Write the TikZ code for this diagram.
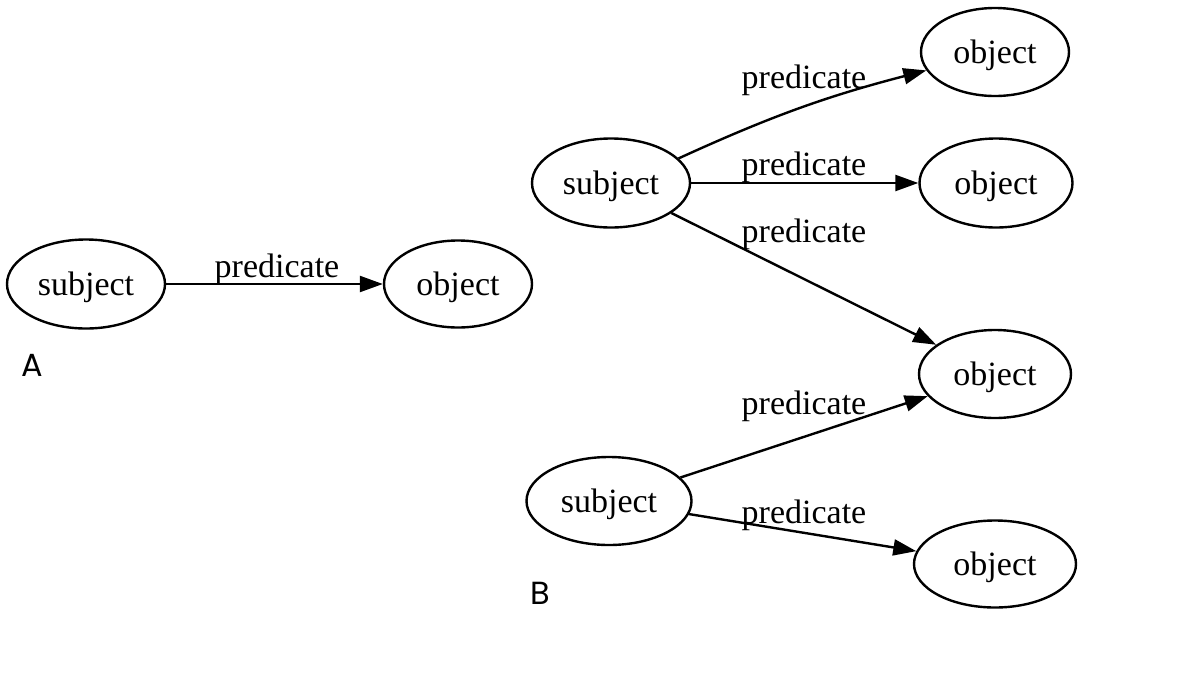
\documentclass[tikz,border=0pt]{standalone}
\usepackage{fontspec}
\setmainfont{Liberation Serif}
\newfontfamily\labfont{Poppins}
\usetikzlibrary{shapes.geometric,arrows.meta}
\begin{document}
\begin{tikzpicture}[x=1pt,y=-1pt,
  ell/.style={draw, line width=2.4pt, ellipse, inner sep=0pt, text height=27pt, text depth=4pt, font=\fontsize{34}{40}\selectfont},
  edge/.style={line width=2.4pt, -{Triangle[length=23pt,width=16pt]}},
  pred/.style={anchor=base, inner sep=0pt, font=\fontsize{34}{40}\selectfont},
  panel/.style={inner sep=0pt, font=\labfont\fontsize{32}{38}\selectfont}]
\useasboundingbox (0,0) rectangle (1200,675);
\fill[white] (0,0) rectangle (1200,675);
% Panel A
\node[ell, minimum width=158pt, minimum height=89pt] (sA) at (86,284) {subject};
\node[ell, minimum width=148pt, minimum height=87pt] (oA) at (458,284) {object};
\draw[edge] (sA) -- (oA);
\node[pred] (pA) at (277,277) {predicate};
\node[panel] (lA) at (32,365) {A};
% Panel B
\node[ell, minimum width=158pt, minimum height=89pt] (s1) at (611,183) {subject};
\node[ell, minimum width=148pt, minimum height=88pt] (o1) at (995,52) {object};
\node[ell, minimum width=153pt, minimum height=89pt] (o2) at (996,183) {object};
\node[ell, minimum width=152pt, minimum height=88pt] (o3) at (995,374) {object};
\node[ell, minimum width=165pt, minimum height=88pt] (s3) at (609,501) {subject};
\node[ell, minimum width=162pt, minimum height=87pt] (o5) at (995,564) {object};
\draw[edge] (s1.20) to[bend left=5] (o1.195);
\draw[edge] (s1) -- (o2);
\draw[edge] (s1) -- (o3);
\draw[edge] (s3) -- (o3);
\draw[edge] (s3) -- (o5);
\node[pred] (p1) at (804,88) {predicate};
\node[pred] (p2) at (804,175) {predicate};
\node[pred] (p3) at (804,242) {predicate};
\node[pred] (p4) at (804,414) {predicate};
\node[pred] (p5) at (804,523) {predicate};
\node[panel] (lB) at (540,593) {B};
\end{tikzpicture}
\end{document}
